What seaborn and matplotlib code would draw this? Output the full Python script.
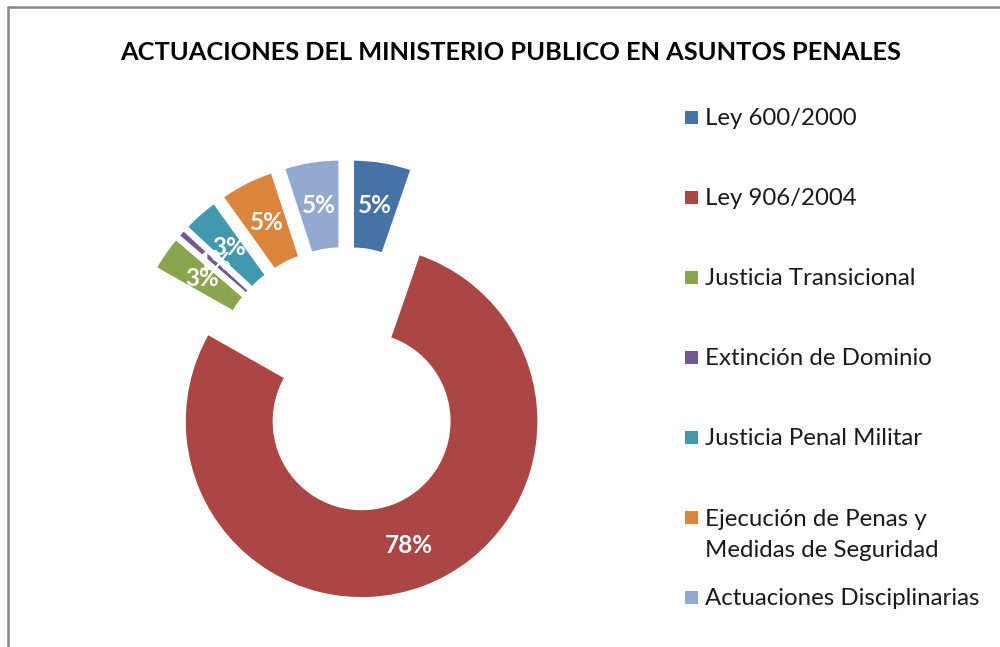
import matplotlib
matplotlib.use("Agg")
import matplotlib.pyplot as plt
from matplotlib.patches import Rectangle
from matplotlib.lines import Line2D
import seaborn as sns

categorias = ["Ley 600/2000", "Ley 906/2004", "Justicia Transicional",
              "Extinción de Dominio", "Justicia Penal Militar",
              "Ejecución de Penas y\nMedidas de Seguridad",
              "Actuaciones Disciplinarias"]
porcentajes = [5.3, 77.9, 3.1, 0.6, 3.2, 4.9, 5.0]
colores = ["#4572A7", "#AA4643", "#89A54E", "#71588F",
           "#4198AF", "#DB843D", "#93A9CF"]
titulo = "ACTUACIONES DEL MINISTERIO PUBLICO EN ASUNTOS PENALES"

sns.set_theme(style="white")
plt.rcParams['font.family'] = ['Lato', 'DejaVu Sans']

W, H = 1000, 647
fig = plt.figure(figsize=(W / 100, H / 100), dpi=100)

# pie placement in pixels (center 346,380, radius 176.5)
R = 176.5
cx, cy = 346, 380
left, right, top, bottom = 150, 560, 140, 620
ax = fig.add_axes([left / W, 1 - bottom / H, (right - left) / W, (bottom - top) / H])

palette = sns.color_palette(colores)
wedges, texts, autotexts = ax.pie(
    porcentajes, colors=palette, startangle=90, counterclock=False,
    explode=[0.25] * len(porcentajes), radius=1,
    wedgeprops=dict(width=0.5, edgecolor="white", linewidth=1),
    autopct="%.0f%%", pctdistance=0.75,
    textprops=dict(color="white", fontsize=17.5, fontweight="bold"))
ax.set_xlim(-(cx - left) / R, (right - cx) / R)
ax.set_ylim(-(bottom - cy) / R, (cy - top) / R)
ax.set_aspect("auto")
ax.axis("off")

# title
fig.text(511 / W, 1 - 60 / H, titulo, ha="center", va="baseline",
         fontsize=18.3, fontweight="bold", color="black")

# legend, entries placed at a fixed pitch like the original
pitch_linea = 32
for i, (lab, col) in enumerate(zip(categorias, palette)):
    yc = 117.5 + 80 * i
    n = lab.count("\n")
    fig.add_artist(Rectangle((685 / W, 1 - (yc + 6.5) / H), 13 / W, 13 / H,
                             transform=fig.transFigure, facecolor=col,
                             edgecolor="none"))
    # baseline of a multi-line text is its last line
    fig.text(705 / W, 1 - (yc + 7.5 + n * pitch_linea) / H, lab,
             ha="left", va="baseline", fontsize=17.3, color="#1a1a1a",
             linespacing=1.58)

# chart border (left and top)
gris = "#868686"
fig.add_artist(Line2D([8 / W, 8 / W], [0, 1 - 7 / H], color=gris, lw=1.8,
                      transform=fig.transFigure))
fig.add_artist(Line2D([8 / W, 1], [1 - 7 / H, 1 - 7 / H], color=gris, lw=1.8,
                      transform=fig.transFigure))

fig.savefig("out.png", dpi=100)
